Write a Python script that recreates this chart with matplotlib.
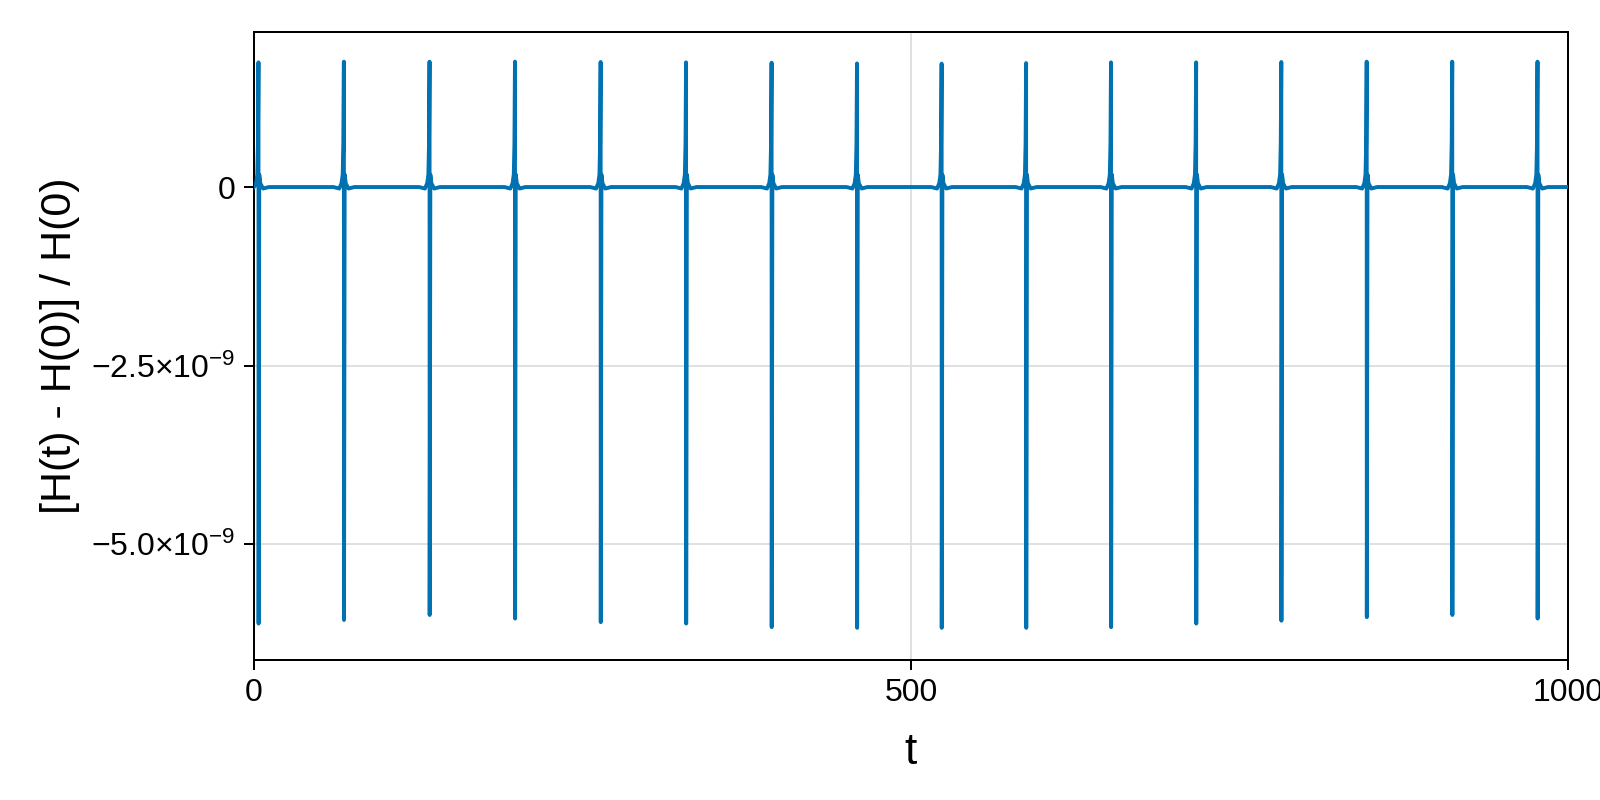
import matplotlib
matplotlib.use("Agg")
import matplotlib.pyplot as plt
from matplotlib.ticker import FixedLocator, FixedFormatter
import numpy as np

plt.rcParams['font.family'] = ['Liberation Sans', 'DejaVu Sans']
plt.rcParams['mathtext.fontset'] = 'custom'
plt.rcParams['mathtext.rm'] = 'Liberation Sans'
plt.rcParams['mathtext.it'] = 'Liberation Sans:italic'

# spike times (t) with the peak and trough values (units of 1e-9)
spike_t = [3.4, 68.4, 133.6, 198.6, 263.8, 328.8, 393.9, 458.9,
           523.3, 587.6, 652.2, 717.0, 781.8, 846.8, 911.9, 976.8]
spike_peak = [1.745, 1.755, 1.755, 1.755, 1.75, 1.745, 1.74, 1.73,
              1.727, 1.735, 1.745, 1.745, 1.75, 1.755, 1.755, 1.755]
spike_trough = [-6.11, -6.06, -5.99, -6.04, -6.09, -6.11, -6.16, -6.17,
                -6.17, -6.17, -6.16, -6.11, -6.07, -6.02, -5.99, -6.04]

# shape of one spike around its centre (dt, fraction of peak)
pre_dt = [-8.0, -3.5, -1.8, -0.9, -0.4, -0.15, 0.0]
pre_frac = [0.0, -0.012, 0.03, 0.1, 0.35, 0.75, 1.0]
trough_dt = 0.1
post_dt = [0.6, 1.4, 3.5, 8.0]
post_frac = [0.1, 0.03, -0.012, 0.0]

x_ticks = [0, 500, 1000]
y_ticks = [0.0, -2.5e-9, -5.0e-9]
y_labels = ['0', '$\\mathregular{−2.5×10^{−9}}$', '$\\mathregular{−5.0×10^{−9}}$']

# assemble the curve
t = [0.0]
h = [0.0]
for t0, pk, tr in zip(spike_t, spike_peak, spike_trough):
    for d, f in zip(pre_dt, pre_frac):
        if t0 + d > 0:
            t.append(t0 + d)
            h.append(f * pk * 1e-9)
    t.append(t0 + trough_dt)
    h.append(tr * 1e-9)
    for d, f in zip(post_dt, post_frac):
        t.append(t0 + d)
        h.append(f * pk * 1e-9)
t.append(1000.0)
h.append(0.0)
t = np.array(t)
h = np.array(h)

fig = plt.figure(figsize=(16, 8), dpi=100)
ax = fig.add_axes([254 / 1600, 1 - 660 / 800, (1568 - 254) / 1600, (660 - 32) / 800])

ax.plot(t, h, color='#0072B2', lw=2.8, solid_joinstyle='round', zorder=3)

ax.set_xlim(0, 1000)
ax.set_ylim(-6.62e-9, 2.17e-9)
ax.xaxis.set_major_locator(FixedLocator(x_ticks))
ax.yaxis.set_major_locator(FixedLocator(y_ticks))
ax.yaxis.set_major_formatter(FixedFormatter(y_labels))

ax.grid(True, color='#e0e0e0', lw=1.4, zorder=0)
ax.set_axisbelow(True)
for s in ax.spines.values():
    s.set_linewidth(1.44)
ax.tick_params(direction='out', length=7.2, width=1.44, labelsize=23, pad=6)

ax.set_xlabel('t', fontsize=32, labelpad=17)
ax.set_ylabel('[H(t) - H(0)] / H(0)', fontsize=31, labelpad=8)

fig.savefig('out.png', dpi=100)
